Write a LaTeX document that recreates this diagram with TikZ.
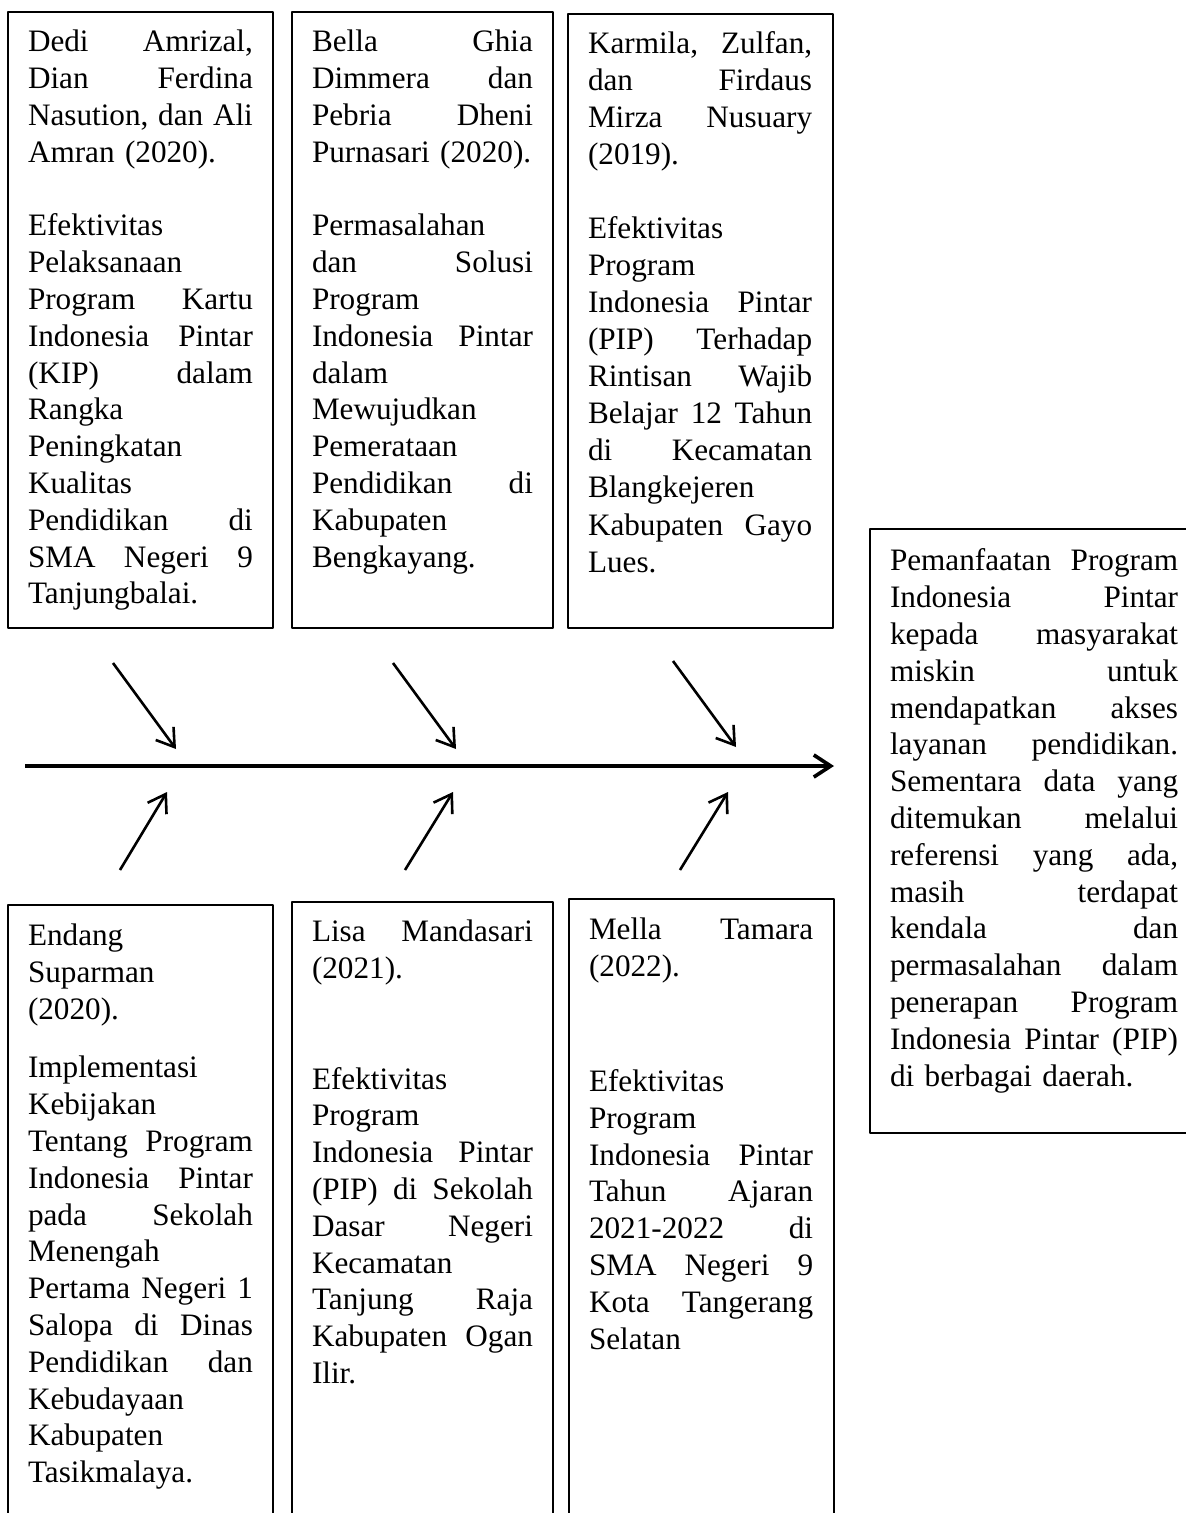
\documentclass[tikz,border=0pt]{standalone}
\usepackage{fontspec}
\setmainfont{Liberation Serif}
\usetikzlibrary{arrows.meta}
\newlength{\lebar}
\newcommand{\jl}[1]{\leavevmode\hbox to\lebar{\frenchspacing\spaceskip=0.25em plus 1fil minus 0.1em\relax#1}}

\begin{document}
\begin{tikzpicture}[x=0.3846pt, y=-0.3846pt, line join=round, >={Straight Barb[length=6.5pt,width=8.5pt]},
		kotak/.style={draw, line width=0.6pt},
		isi/.style={anchor=north west, inner sep=0pt, outer sep=0pt, align=left, text width=#1, font=\fontsize{12pt}{14.15pt}\selectfont, execute at begin node={\global\lebar=#1\strut}},
		tulang/.style={->, line width=1pt},
		duri/.style={->, line width=1.4pt}]
		\useasboundingbox (0,0) rectangle (1185,1513);
		\coordinate (S0) at (25,766);
		\coordinate (S1) at (834,766);
		\coordinate (A1) at (113,663);
		\coordinate (A2) at (176,749);
		\coordinate (B1) at (393,663);
		\coordinate (B2) at (456,749);
		\coordinate (C1) at (673,661);
		\coordinate (C2) at (736,747);
		\coordinate (D1) at (120,870);
		\coordinate (D2) at (167,792);
		\coordinate (E1) at (405,870);
		\coordinate (E2) at (453,792);
		\coordinate (F1) at (680,870);
		\coordinate (F2) at (728,792);
		\draw[kotak] (8,12) rectangle (273,628);
		\draw[kotak] (292,12) rectangle (553,628);
		\draw[kotak] (568,14) rectangle (833,628);
		\draw[kotak] (8,905) rectangle (273,1530);
		\draw[kotak] (292,902) rectangle (553,1530);
		\draw[kotak] (569,899) rectangle (834,1530);
		\draw[kotak] (870,529) rectangle (1200,1133);
		\node[isi=86.5pt] (amrizal) at (28,26.2) {\jl{Dedi Amrizal,}\\ \jl{Dian Ferdina}\\ \jl{Nasution, dan Ali}\\ Amran (2020).\\[\baselineskip]
			Efektivitas\\ Pelaksanaan\\ \jl{Program Kartu}\\ \jl{Indonesia Pintar}\\ \jl{(KIP) dalam}\\ Rangka\\ Peningkatan\\ Kualitas\\ \jl{Pendidikan di}\\ \jl{SMA Negeri 9}\\ Tanjungbalai.};
		\node[isi=85pt] (dimmera) at (312,26.2) {\jl{Bella Ghia}\\ \jl{Dimmera dan}\\ \jl{Pebria Dheni}\\ Purnasari (2020).\\[\baselineskip]
			Permasalahan\\ \jl{dan Solusi}\\ Program\\ \jl{Indonesia Pintar}\\ dalam\\ Mewujudkan\\ Pemerataan\\ \jl{Pendidikan di}\\ Kabupaten\\ Bengkayang.};
		\node[isi=86.2pt, font=\fontsize{12pt}{14.26pt}\selectfont] (karmila) at (588,27.1) {\jl{Karmila, Zulfan,}\\ \jl{dan Firdaus}\\ \jl{Mirza Nusuary}\\ (2019).\\[\baselineskip]
			Efektivitas\\ Program\\ \jl{Indonesia Pintar}\\ \jl{(PIP) Terhadap}\\ \jl{Rintisan Wajib}\\ \jl{Belajar 12 Tahun}\\ \jl{di Kecamatan}\\ Blangkejeren\\ \jl{Kabupaten Gayo}\\ Lues.};
		\node[isi=86.5pt] (suparman) at (28,920.2) {Endang\\ Suparman\\ (2020).\\[8.3pt]
			Implementasi\\ Kebijakan\\ \jl{Tentang Program}\\ \jl{Indonesia Pintar}\\ \jl{pada Sekolah}\\ Menengah\\ \jl{Pertama Negeri 1}\\ \jl{Salopa di Dinas}\\ \jl{Pendidikan dan}\\ Kebudayaan\\ Kabupaten\\ Tasikmalaya.};
		\node[isi=85pt] (mandasari) at (312,916.2) {\jl{Lisa Mandasari}\\ (2021).\\[2\baselineskip]
			Efektivitas\\ Program\\ \jl{Indonesia Pintar}\\ \jl{(PIP) di Sekolah}\\ \jl{Dasar Negeri}\\ Kecamatan\\ \jl{Tanjung Raja}\\ \jl{Kabupaten Ogan}\\ Ilir.};
		\node[isi=86.2pt] (tamara) at (589,914.2) {\jl{Mella Tamara}\\ (2022).\\[30pt]
			Efektivitas\\ Program\\ \jl{Indonesia Pintar}\\ \jl{Tahun Ajaran}\\ \jl{2021-2022 di}\\ \jl{SMA Negeri 9}\\ \jl{Kota Tangerang}\\ Selatan};
		\node[isi=110.8pt] (hasil) at (890,545.2) {\jl{Pemanfaatan Program}\\ \jl{Indonesia Pintar}\\ \jl{kepada masyarakat}\\ \jl{miskin untuk}\\ \jl{mendapatkan akses}\\ \jl{layanan pendidikan.}\\ \jl{Sementara data yang}\\ \jl{ditemukan melalui}\\ \jl{referensi yang ada,}\\ \jl{masih terdapat}\\ \jl{kendala dan}\\ \jl{permasalahan dalam}\\ \jl{penerapan Program}\\ \jl{Indonesia Pintar (PIP)}\\ di berbagai daerah.};
		\draw[duri] (S0)--(S1);
		\draw[tulang] (A1)--(A2);
		\draw[tulang] (B1)--(B2);
		\draw[tulang] (C1)--(C2);
		\draw[tulang] (D1)--(D2);
		\draw[tulang] (E1)--(E2);
		\draw[tulang] (F1)--(F2);
\end{tikzpicture}
\end{document}
